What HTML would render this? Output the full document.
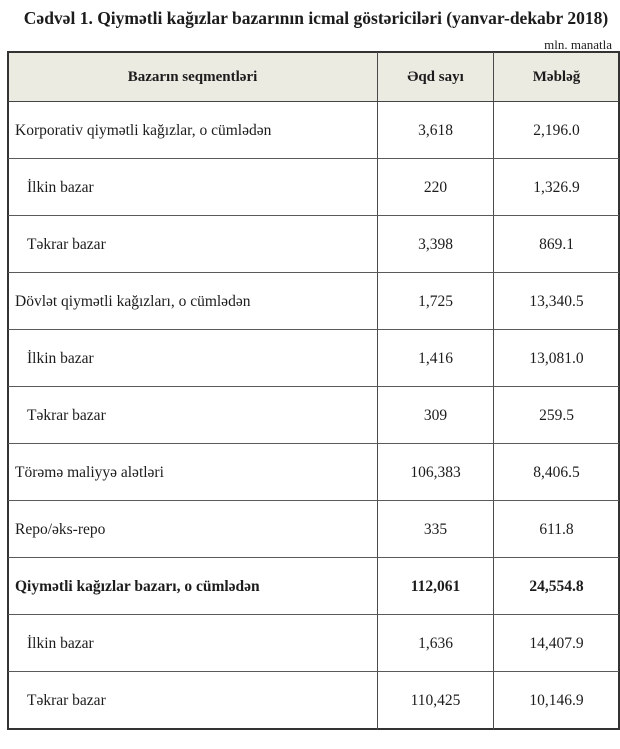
<!DOCTYPE html>
<html>
<head>
<meta charset="utf-8">
<style>
html,body{margin:0;padding:0;background:#fff;}
body{width:620px;height:749px;position:relative;overflow:hidden;font-family:"Liberation Serif","DejaVu Serif",serif;color:#1c1c1c;}
.title{position:absolute;left:0;top:8px;width:632px;text-align:center;font-weight:bold;font-size:17.5px;white-space:nowrap;}
.unit{position:absolute;right:8px;top:37px;font-size:13px;}
.hdr{position:absolute;left:8px;top:52px;width:611px;height:50px;background:#ecebe1;}
.h{position:absolute;background:#5a5a5a;height:1px;left:8px;width:611px;}
.v{position:absolute;background:#4a4a4a;width:1px;top:52px;height:678px;}
.t{position:absolute;font-size:15.5px;white-space:nowrap;line-height:20px;}
.c2{left:377px;width:117px;text-align:center;}
.c3{left:494px;width:125px;text-align:center;}
.b{font-weight:bold;}
</style>
</head>
<body>
<div class="title">Cədvəl 1. Qiymətli kağızlar bazarının icmal göstəriciləri (yanvar-dekabr 2018)</div>
<div class="unit">mln. manatla</div>
<div class="hdr"></div>

<div class="h" style="top:51px;height:2px;background:#333;"></div>
<div class="h" style="top:728px;height:2px;background:#333;"></div>
<div class="v" style="left:7px;width:2px;background:#333;top:51px;height:679px;"></div>
<div class="v" style="left:618px;width:2px;background:#333;top:51px;height:679px;"></div>
<div class="v" style="left:377px;"></div>
<div class="v" style="left:493px;"></div>

<div class="h" style="top:101px;background:#444;"></div>
<div class="h" style="top:158px;"></div>
<div class="h" style="top:215px;"></div>
<div class="h" style="top:272px;"></div>
<div class="h" style="top:329px;"></div>
<div class="h" style="top:386px;"></div>
<div class="h" style="top:443px;"></div>
<div class="h" style="top:500px;"></div>
<div class="h" style="top:557px;"></div>
<div class="h" style="top:614px;"></div>
<div class="h" style="top:671px;"></div>

<div class="t b" style="left:8px;width:369px;text-align:center;top:67px;font-size:15px;">Bazarın seqmentləri</div>
<div class="t b c2" style="top:67px;font-size:15px;">Əqd sayı</div>
<div class="t b c3" style="top:67px;font-size:15px;">Məbləğ</div>

<div class="t" style="left:15px;top:121px;">Korporativ qiymətli kağızlar, o cümlədən</div>
<div class="t c2" style="top:121px;">3,618</div>
<div class="t c3" style="top:121px;">2,196.0</div>

<div class="t" style="left:27px;top:178px;">İlkin bazar</div>
<div class="t c2" style="top:178px;">220</div>
<div class="t c3" style="top:178px;">1,326.9</div>

<div class="t" style="left:27px;top:235px;">Təkrar bazar</div>
<div class="t c2" style="top:235px;">3,398</div>
<div class="t c3" style="top:235px;">869.1</div>

<div class="t" style="left:15px;top:292px;">Dövlət qiymətli kağızları, o cümlədən</div>
<div class="t c2" style="top:292px;">1,725</div>
<div class="t c3" style="top:292px;">13,340.5</div>

<div class="t" style="left:27px;top:349px;">İlkin bazar</div>
<div class="t c2" style="top:349px;">1,416</div>
<div class="t c3" style="top:349px;">13,081.0</div>

<div class="t" style="left:27px;top:406px;">Təkrar bazar</div>
<div class="t c2" style="top:406px;">309</div>
<div class="t c3" style="top:406px;">259.5</div>

<div class="t" style="left:15px;top:463px;">Törəmə maliyyə alətləri</div>
<div class="t c2" style="top:463px;">106,383</div>
<div class="t c3" style="top:463px;">8,406.5</div>

<div class="t" style="left:15px;top:520px;">Repo/əks-repo</div>
<div class="t c2" style="top:520px;">335</div>
<div class="t c3" style="top:520px;">611.8</div>

<div class="t b" style="left:15px;top:577px;">Qiymətli kağızlar bazarı, o cümlədən</div>
<div class="t b c2" style="top:577px;">112,061</div>
<div class="t b c3" style="top:577px;">24,554.8</div>

<div class="t" style="left:27px;top:634px;">İlkin bazar</div>
<div class="t c2" style="top:634px;">1,636</div>
<div class="t c3" style="top:634px;">14,407.9</div>

<div class="t" style="left:27px;top:691px;">Təkrar bazar</div>
<div class="t c2" style="top:691px;">110,425</div>
<div class="t c3" style="top:691px;">10,146.9</div>
</body>
</html>
